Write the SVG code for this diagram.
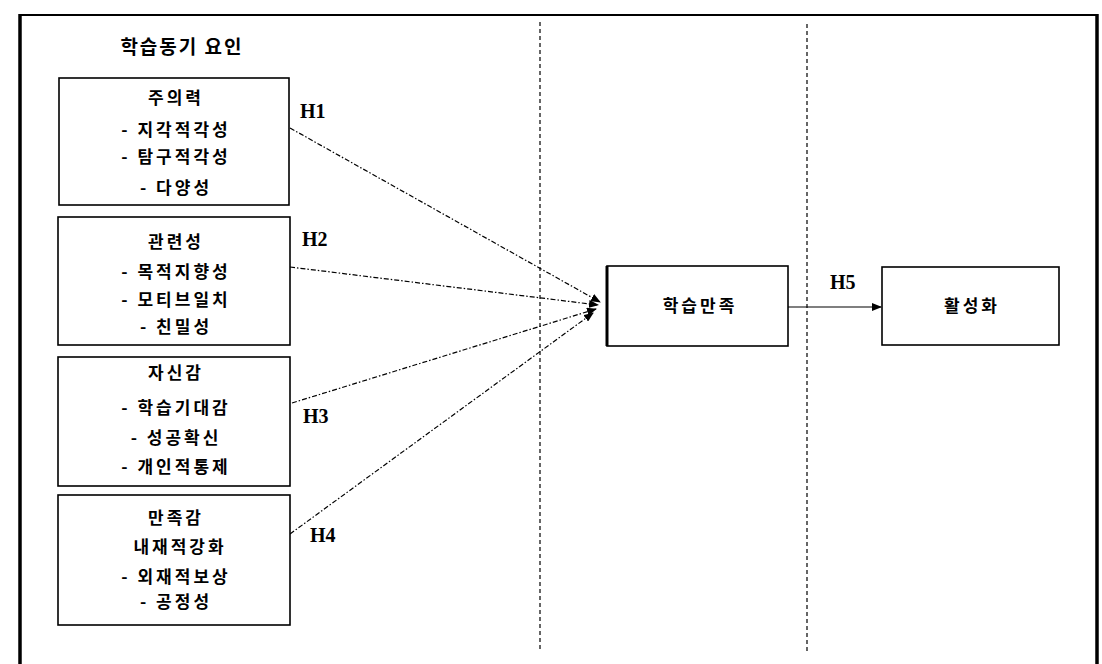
<svg xmlns="http://www.w3.org/2000/svg" width="1102" height="664" viewBox="0 0 1102 664">
<defs>
<marker id="ah" markerWidth="10" markerHeight="8" refX="9" refY="4" orient="auto" markerUnits="userSpaceOnUse">
<path d="M0,0 L10,4 L0,8 Z" fill="#000"/>
</marker>
<style>
.box{fill:#fff;stroke:#000;stroke-width:1.6}
.kt{font-family:"Noto Sans CJK KR","Noto Sans",sans-serif;font-size:17px;font-weight:bold;fill:#000;text-anchor:middle;letter-spacing:3px}
.hl{font-family:"Liberation Serif",serif;font-size:20px;font-weight:bold;fill:#000}
.conn{fill:none;stroke:#000;stroke-width:1.2;stroke-dasharray:5 2 1.5 2}
.sep{fill:none;stroke:#000;stroke-width:1.2;stroke-dasharray:4 3}
</style>
</defs>
<rect width="1102" height="664" fill="#fff"/>
<g id="frame">
<line x1="20" y1="15" x2="1097" y2="15" stroke="#000" stroke-width="2"/>
<line x1="20" y1="14" x2="20" y2="664" stroke="#000" stroke-width="3.5"/>
<line x1="1097" y1="14" x2="1097" y2="664" stroke="#000" stroke-width="3.5"/>
</g>
<g id="separators">
<line class="sep" x1="540" y1="22" x2="540" y2="652"/>
<line class="sep" x1="807" y1="24" x2="807" y2="652"/>
</g>
<g id="title">
<text x="182" y="54" font-family="Noto Sans CJK KR, sans-serif" font-size="19" font-weight="bold" text-anchor="middle" letter-spacing="2">학습동기 요인</text>
</g>
<g id="connectors">
<line class="conn" x1="290" y1="128" x2="600" y2="302" marker-end="url(#ah)"/>
<line class="conn" x1="290" y1="267" x2="598" y2="305" marker-end="url(#ah)"/>
<line class="conn" x1="292" y1="403" x2="596" y2="309" marker-end="url(#ah)"/>
<line class="conn" x1="290" y1="534" x2="593" y2="313" marker-end="url(#ah)"/>
<line x1="788" y1="307" x2="881" y2="307" stroke="#000" stroke-width="1.2" marker-end="url(#ah)"/>
</g>
<g id="labels">
<text class="hl" x="300" y="118">H1</text>
<text class="hl" x="302" y="246">H2</text>
<text class="hl" x="303" y="423">H3</text>
<text class="hl" x="310" y="542">H4</text>
<text class="hl" x="830" y="289">H5</text>
</g>
<g id="node-attention">
<rect class="box" x="59" y="78" width="230" height="127"/>
<text class="kt" x="176" y="104">주의력</text>
<text class="kt" x="176" y="136">- 지각적각성</text>
<text class="kt" x="176" y="163">- 탐구적각성</text>
<text class="kt" x="176" y="194">- 다양성</text>
</g>
<g id="node-relevance">
<rect class="box" x="58" y="217" width="232" height="128"/>
<text class="kt" x="176" y="248">관련성</text>
<text class="kt" x="176" y="278">- 목적지향성</text>
<text class="kt" x="176" y="306">- 모티브일치</text>
<text class="kt" x="176" y="333">- 친밀성</text>
</g>
<g id="node-confidence">
<rect class="box" x="58" y="357" width="232" height="129"/>
<text class="kt" x="176" y="379">자신감</text>
<text class="kt" x="176" y="414">- 학습기대감</text>
<text class="kt" x="176" y="444">- 성공확신</text>
<text class="kt" x="176" y="473">- 개인적통제</text>
</g>
<g id="node-satisfaction">
<rect class="box" x="58" y="495" width="232" height="130"/>
<text class="kt" x="176" y="524">만족감</text>
<text class="kt" x="180" y="553">내재적강화</text>
<text class="kt" x="176" y="583">- 외재적보상</text>
<text class="kt" x="176" y="608">- 공정성</text>
</g>
<g id="node-learning-satisfaction">
<rect class="box" x="607" y="266" width="181" height="80"/>
<line x1="607" y1="266" x2="607" y2="346" stroke="#000" stroke-width="3"/>
<text class="kt" x="700" y="312">학습만족</text>
</g>
<g id="node-activation">
<rect class="box" x="882" y="267" width="177" height="78"/>
<text class="kt" x="972" y="312">활성화</text>
</g>
</svg>
